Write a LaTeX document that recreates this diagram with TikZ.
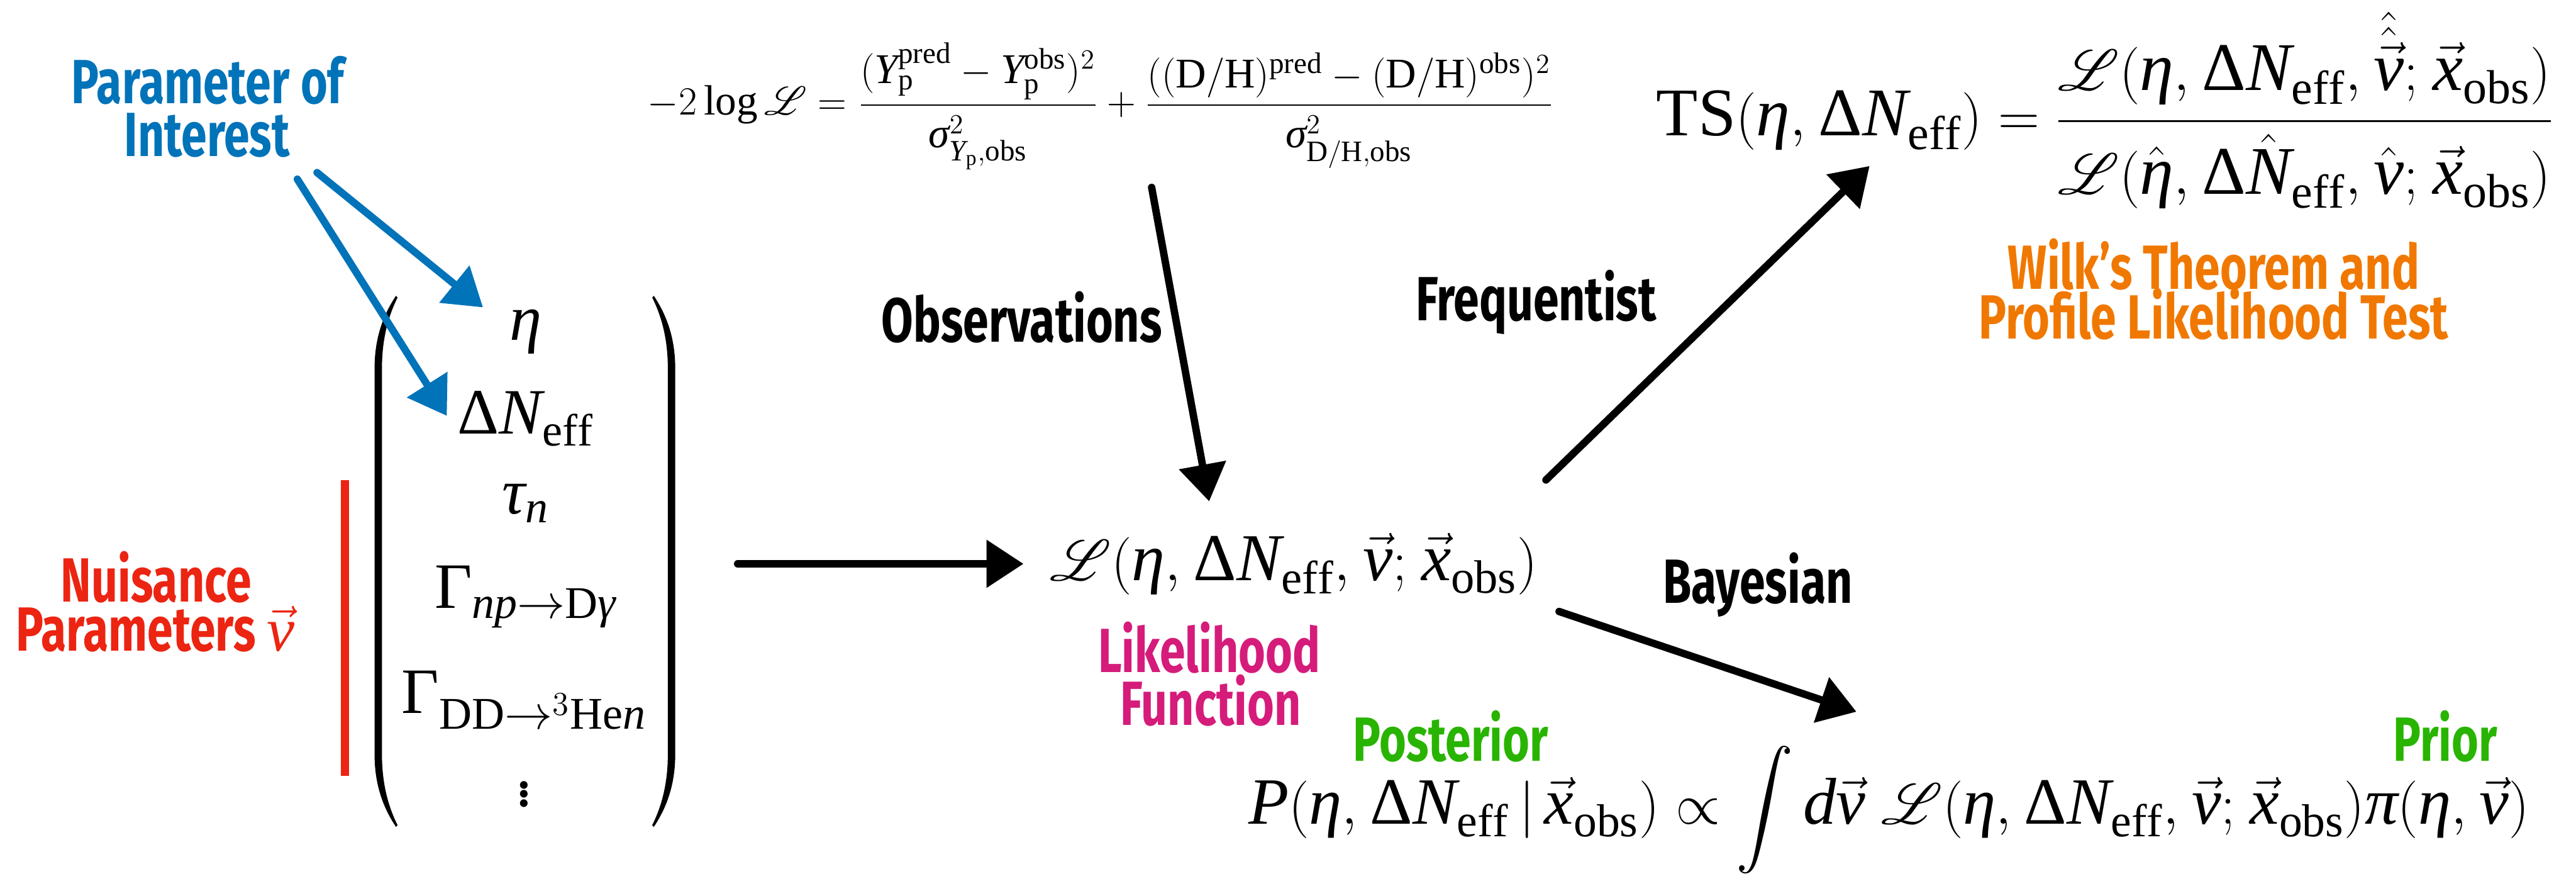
\documentclass[tikz,border=0pt]{standalone}
\usepackage{amsmath}
\usepackage{mathrsfs}
\usepackage{fontspec}
\setmainfont{Liberation Serif}
\newfontfamily\libserif{Liberation Serif}[NFSSFamily=libserif]
\DeclareSymbolFont{libit}{TU}{libserif}{m}{it}
\DeclareSymbolFont{librm}{TU}{libserif}{m}{n}
\AtBeginDocument{%
  \count255=`a
  \loop \Umathcode\count255="7 \symlibit \count255
    \ifnum\count255<`z \advance\count255 by 1 \repeat
  \count255=`A
  \loop \Umathcode\count255="7 \symlibit \count255
    \ifnum\count255<`Z \advance\count255 by 1 \repeat
  \Umathchardef\eta="0 \symlibit "03B7
  \Umathchardef\nu="0 \symlibit "03BD
  \Umathchardef\tau="0 \symlibit "03C4
  \Umathchardef\gamma="0 \symlibit "03B3
  \Umathchardef\sigma="0 \symlibit "03C3
  \Umathchardef\pi="0 \symlibit "03C0
  \Umathchardef\Delta="0 \symlibrm "0394
  \Umathchardef\Gamma="0 \symlibrm "0393
}
\newfontfamily\handfont{Fira Sans}[FakeStretch=0.74]
\usetikzlibrary{arrows.meta}
\definecolor{poiblue}{RGB}{0,115,185}
\definecolor{nuisred}{RGB}{236,36,18}
\definecolor{likemag}{RGB}{213,28,122}
\definecolor{postgreen}{RGB}{40,180,0}
\definecolor{wilkorange}{RGB}{240,120,0}
\newcommand{\cm}{,\mskip 1mu}
\newcommand{\sm}{;\mskip 1.5mu}
\begin{document}
\begin{tikzpicture}[x=0.025cm,y=-0.025cm,
  mathbig/.style={font=\fontsize{28}{34}\selectfont, inner sep=0pt},
  mathts/.style={font=\fontsize{29.5}{35}\selectfont, inner sep=0pt},
  mathmid/.style={font=\fontsize{29}{35}\selectfont, inner sep=0pt},
  mathpost/.style={font=\fontsize{28.6}{34}\selectfont, inner sep=0pt},
  mathtop/.style={font=\fontsize{18.3}{22}\selectfont, inner sep=0pt},
  handlabel/.style={font=\handfont\bfseries\fontsize{27}{27}\selectfont, inner sep=0pt, anchor=base},
  sketcharrow/.style={line width=3.2pt, line cap=round, -{Triangle[length=16pt,width=20pt]}},
]
\useasboundingbox (0,0) rectangle (1568,538.8);

% ---------- formulas ----------
\node[mathtop, anchor=base west] (topf) at (394,70) {$\displaystyle -2\log\mathscr{L} = \frac{(Y_{\mathrm{p}}^{\mathrm{pred}} - Y_{\mathrm{p}}^{\mathrm{obs}})^2}{\sigma^2_{Y_{\mathrm{p}},\mathrm{obs}}\rule{0pt}{16pt}} + \frac{((\mathrm{D/H})^{\mathrm{pred}} - (\mathrm{D/H})^{\mathrm{obs}})^2}{\sigma^2_{\mathrm{D/H},\mathrm{obs}}\rule{0pt}{16pt}}$};

\node[mathts, anchor=base west] (tsf) at (1008,82.5) {$\displaystyle \mathrm{TS}(\eta\cm \Delta N_{\mathrm{eff}}) = \frac{\mathscr{L}(\eta\cm \Delta N_{\mathrm{eff}}\cm \hat{\hat{\vec{\nu}}}\sm \vec{x}_{\mathrm{obs}})\rule[-10pt]{0pt}{1pt}}{\mathscr{L}(\hat{\eta}\cm \Delta\hat{N}_{\mathrm{eff}}\cm \hat{\nu}\sm \vec{x}_{\mathrm{obs}})\rule{0pt}{28pt}}$};

\node[mathmid, anchor=base west] (likef) at (639,353) {$\mathscr{L}(\eta\cm \Delta N_{\mathrm{eff}}\cm \vec{\nu}\sm \vec{x}_{\mathrm{obs}})$};

\node[mathpost, anchor=base west] (postf) at (759.6,501.3) {$\displaystyle P(\eta\cm \Delta N_{\mathrm{eff}}\,|\,\vec{x}_{\mathrm{obs}}) \propto \int d\vec{\nu}\;\mathscr{L}(\eta\cm \Delta N_{\mathrm{eff}}\cm \vec{\nu}\sm \vec{x}_{\mathrm{obs}})\pi(\eta\cm \vec{\nu})$};

% ---------- parameter vector ----------
\node[mathbig, anchor=base] (mEta) at (320,207) {$\eta$};
\node[mathbig, anchor=base] (mDN) at (320,264) {$\Delta N_{\mathrm{eff}}$};
\node[mathbig, anchor=base] (mTau) at (320,312.5) {$\tau_n$};
\node[mathbig, anchor=base] (mGnp) at (320,370) {$\Gamma_{np\to \mathrm{D}\gamma}$};
\node[mathbig, anchor=base] (mGdd) at (319,434) {$\Gamma_{\mathrm{DD}\to {}^3\mathrm{He}n}$};
\node[mathbig, anchor=center] (mDots) at (319,479) {$\vdots$};

% parentheses
\fill (241,180) .. controls (233,192) and (228,206) .. (228,224) -- (228,459)
  .. controls (228,477) and (233,491) .. (241,503) -- (242,502)
  .. controls (236,490) and (232.5,476) .. (232.5,459) -- (232.5,224)
  .. controls (232.5,207) and (236,193) .. (242,181) -- cycle;
\fill (398,180) .. controls (406,192) and (411,206) .. (411,224) -- (411,459)
  .. controls (411,477) and (406,491) .. (398,503) -- (397,502)
  .. controls (403,490) and (406.5,476) .. (406.5,459) -- (406.5,224)
  .. controls (406.5,207) and (403,193) .. (397,181) -- cycle;

% ---------- labels ----------
\node[handlabel, text=poiblue] (poi1) at (126.5,63) {Parameter of};
\node[handlabel, text=poiblue] (poi2) at (126,95) {Interest};
\node[handlabel, text=nuisred] (nuis1) at (95,366) {Nuisance};
\node[handlabel, text=nuisred] (nuis2) at (94.5,396) {Parameters $\vec{\nu}$};
\node[handlabel] (obslab) at (622,208) {Observations};
\node[handlabel] (freqlab) at (935,195) {Frequentist};
\node[handlabel] (bayeslab) at (1070,367) {Bayesian};
\node[handlabel, text=likemag] (like1) at (736,409) {Likelihood};
\node[handlabel, text=likemag] (like2) at (737,441) {Function};
\node[handlabel, text=postgreen] (postlab) at (883,463) {Posterior};
\node[handlabel, text=postgreen] (priorlab) at (1488.5,463) {Prior};
\node[handlabel, text=wilkorange] (wilk1) at (1347.5,176) {Wilk’s Theorem and};
\node[handlabel, text=wilkorange] (wilk2) at (1347.5,206) {Profile Likelihood Test};

% ---------- arrow end points ----------
\coordinate (poiAs) at (193,105);  \coordinate (poiAe) at (294,187);
\coordinate (poiBs) at (181,109);  \coordinate (poiBe) at (272,253);
\coordinate (vecs) at (449,343);   \coordinate (vece) at (623,343);
\coordinate (obss) at (701,114);   \coordinate (obse) at (736,305);
\coordinate (freqs) at (941,292);  \coordinate (freqe) at (1138,101);
\coordinate (bays) at (949,372);   \coordinate (baye) at (1130,433);
\coordinate (reds) at (210,292);   \coordinate (rede) at (210,472);

\draw[sketcharrow, poiblue] (poiAs) -- (poiAe);
\draw[sketcharrow, poiblue] (poiBs) -- (poiBe);
\draw[sketcharrow] (vecs) -- (vece);
\draw[sketcharrow] (obss) -- (obse);
\draw[sketcharrow] (freqs) -- (freqe);
\draw[sketcharrow] (bays) -- (baye);
\draw[nuisred, line width=3.4pt] (reds) -- (rede);
\end{tikzpicture}
\end{document}
